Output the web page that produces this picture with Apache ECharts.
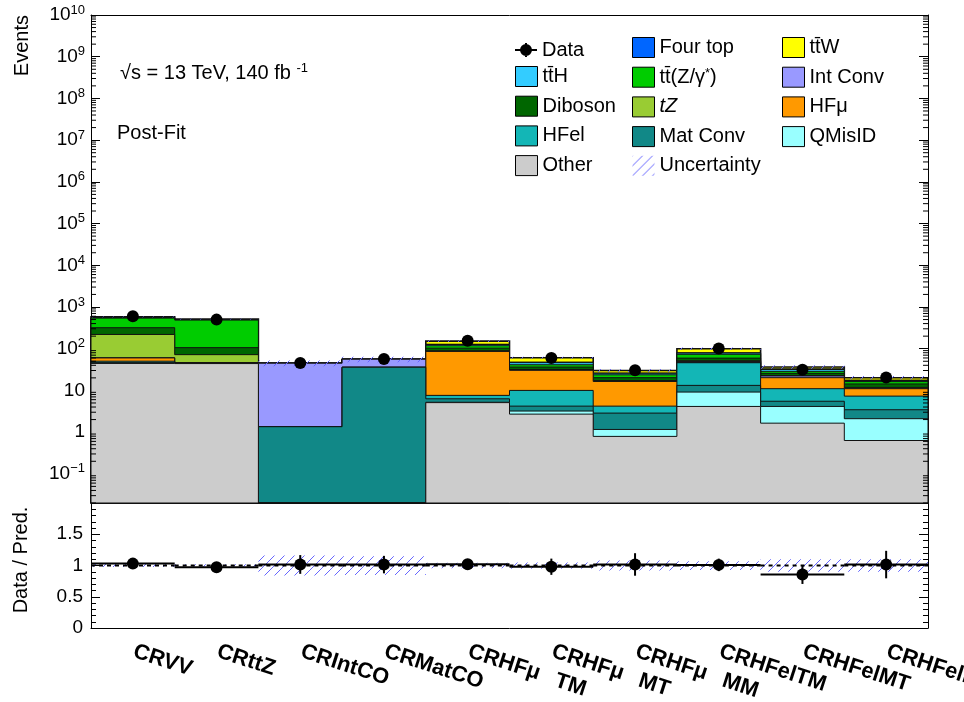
<!DOCTYPE html>
<html><head><meta charset="utf-8">
<script src="https://cdn.jsdelivr.net/npm/echarts@6/dist/echarts.min.js"></script>
<style>html,body{margin:0;padding:0;background:#fff}#c{width:964px;height:702px}</style>
</head><body><div id="c"></div><script>
// ---------- data ----------
const categories = ['CRVV','CRttZ','CRIntCO','CRMatCO','CRHFμ','CRHFμ\nTM','CRHFμ\nMT','CRHFelTM\nMM','CRHFelMT','CRHFelMM'];
// stack components, bottom -> top
const other    = [44.4, 44,   0,    0,    5.1,  2.7,  0.79, 4.13, 1.64, 0.63];
const qmisid   = [0.3,  0.1,  0,    0,    0.1,  0.5,  0.37, 5.0,  2.49, 1.47];
const matConv  = [1.5,  0.5,  1.35, 36,   1.1,  1.0,  1.7,  4.07, 1.37, 1.34];
const hfel     = [4,    1,    0,    0,    1.3,  5.8,  1.34, 32.9, 5.5,  3.86];
const hfmu     = [9.9,  0.5,  0,    0,    78.5, 20.3, 12.2, 0.4,  9.2,  3.7];
const intConv  = [0.5,  0.3,  43.6, 20,   1,    0.5,  0.3,  3,    2,    0.3];
const tZ       = [159,  25.6, 0,    0,    2,    1,    0.5,  2,    0.5,  0.5];
const diboson  = [99,   34,   0,    0,    14,   4.5,  3,    8,    3,    2.5];
const ttZ      = [223,  380,  0,    0,    15,   5,    3.5,  14,   3,    2];
const ttH      = [15,   12,   0,    0,    8,    5,    2,    5,    3,    1];
const fourTop  = [3,    3,    0,    0,    2,    1.5,  0.5,  1.5,  1.3,  0.4];
const ttW      = [20,   12,   0,    0,    24,   13,   3.8,  20,   3.5,  2.5];
const dataObs  = [597,  498,  45.7, 56.8, 155,  59.6, 30.5, 101,  31.2, 20.5];
const ratioErr = [0.04, 0.045,0.15, 0.14, 0.08, 0.13, 0.18, 0.1,  0.15, 0.22];
const relUnc   = [0.025,0.02, 0.16, 0.15, 0.045,0.05, 0.08, 0.07, 0.1,  0.1];
const yTickValues = [1e-1,1e0,1e1,1e2,1e3,1e4,1e5,1e6,1e7,1e8,1e9,1e10];
const ratioTicks = [0, 0.5, 1, 1.5];

const YMIN = 0.02, YMAX = 1e10;
const FONT = '"Liberation Sans", Arial, Helvetica, sans-serif';

const components = [
  {name:'Other', color:'#cccccc', values: other},
  {name:'QMisID', color:'#99ffff', values: qmisid},
  {name:'Mat Conv', color:'#118887', values: matConv},
  {name:'HFel', color:'#13b6b6', values: hfel},
  {name:'HFμ', color:'#ff9900', values: hfmu},
  {name:'Int Conv', color:'#9999ff', values: intConv},
  {name:'tZ', color:'#99cc33', values: tZ},
  {name:'Diboson', color:'#006600', values: diboson},
  {name:'tt\u0304(Z/γ*)', color:'#00cc00', values: ttZ},
  {name:'tt\u0304H', color:'#33ccff', values: ttH},
  {name:'Four top', color:'#0066ff', values: fourTop},
  {name:'tt\u0304W', color:'#ffff00', values: ttW}
];
const cum = [];
components.forEach((c, k) => {
  cum.push(c.values.map((v, i) => v + (k ? cum[k-1][i] : 0)));
});
const total = cum[cum.length-1];

// minor log ticks 2..9 per decade (axis decoration)
const minorTicks = [];
for (let e = -2; e < 10; e++) for (let m = 2; m <= 9; m++) { const v = m * Math.pow(10, e); if (v >= YMIN && v <= YMAX) minorTicks.push(v); }

// hatch pattern
const hatch = document.createElement('canvas');
hatch.width = 10; hatch.height = 10;
(function(){ const g = hatch.getContext('2d'); g.strokeStyle = '#6666ff'; g.lineWidth = 1;
  g.beginPath(); g.moveTo(0,10); g.lineTo(10,0); g.moveTo(-1,1); g.lineTo(1,-1); g.moveTo(9,11); g.lineTo(11,9); g.stroke(); })();
const hatchFill = {image: hatch, repeat: 'repeat'};

function binWidth(api, y) { return api.coord([1, y])[0] - api.coord([0, y])[0]; }

function levelRender(k) {
  return function (params, api) {
    if (params.dataIndex !== 0) return null;
    const bw = binWidth(api, YMIN);
    const ybot = api.coord([0, YMIN])[1];
    const pts = [];
    const n = cum[k].length;
    for (let i = 0; i < n; i++) {
      const xc = api.coord([i, YMIN])[0];
      const y = api.coord([i, Math.max(cum[k][i], YMIN)])[1];
      if (i === 0) pts.push([xc - bw/2, ybot]);
      pts.push([xc - bw/2, y], [xc + bw/2, y]);
      if (i === n-1) pts.push([xc + bw/2, ybot]);
    }
    return {type:'polygon', shape:{points: pts}, style:{fill: components[k].color, stroke:'#111', lineWidth: k === components.length-1 ? 1.6 : 1}};
  };
}

const series = [];
for (let k = components.length - 1; k >= 0; k--) {
  series.push({
    type:'custom', name: components[k].name, xAxisIndex:0, yAxisIndex:0,
    itemStyle:{color: components[k].color},
    data: cum[k].map((v, i) => [i, Math.max(v, YMIN)]),
    renderItem: levelRender(k), z: 2
  });
}
// uncertainty band on the stack
series.push({
  type:'custom', name:'Uncertainty', xAxisIndex:0, yAxisIndex:0, z:3,
  itemStyle:{color: hatchFill},
  data: total.map((t, i) => [i, t*(1-relUnc[i]), t*(1+relUnc[i])]),
  renderItem: function (params, api) {
    const i = api.value(0);
    const bw = binWidth(api, YMIN);
    const lo = api.coord([i, api.value(1)]), hi = api.coord([i, api.value(2)]);
    return {type:'rect', shape:{x: lo[0]-bw/2, y: hi[1], width: bw, height: lo[1]-hi[1]}, style:{fill: hatchFill}};
  }
});
// data points
series.push({
  type:'custom', name:'Data', xAxisIndex:0, yAxisIndex:0, z:5,
  itemStyle:{color:'#000'},
  data: dataObs.map((d, i) => [i, d, ratioErr[i]*total[i]]),
  renderItem: function (params, api) {
    const i = api.value(0), v = api.value(1), e = api.value(2);
    const p = api.coord([i, v]);
    const lo = api.coord([i, Math.max(v - e, YMIN)]), hi = api.coord([i, v + e]);
    return {type:'group', children:[
      {type:'line', shape:{x1:p[0], y1:lo[1], x2:p[0], y2:hi[1]}, style:{stroke:'#000', lineWidth:2}},
      {type:'circle', shape:{cx:p[0], cy:p[1], r:6}, style:{fill:'#000'}}
    ]};
  }
});
// minor ticks of the log axis, both frame sides
series.push({
  type:'custom', name:'minorTicks', xAxisIndex:0, yAxisIndex:0, z:6, silent:true,
  data: minorTicks.map(v => [0, v]),
  renderItem: function (params, api) {
    const cs = params.coordSys;
    const y = api.coord([0, api.value(1)])[1];
    return {type:'group', children:[
      {type:'line', shape:{x1:cs.x, y1:y, x2:cs.x+5, y2:y}, style:{stroke:'#000', lineWidth:1}},
      {type:'line', shape:{x1:cs.x+cs.width-5, y1:y, x2:cs.x+cs.width, y2:y}, style:{stroke:'#000', lineWidth:1}}
    ]};
  }
});
// ratio band + reference line
series.push({
  type:'custom', name:'ratioBand', xAxisIndex:2, yAxisIndex:2, z:3,
  data: relUnc.map((u, i) => [i, 1-u, 1+u]),
  renderItem: function (params, api) {
    const i = api.value(0);
    const bw = binWidth(api, 1);
    const lo = api.coord([i, api.value(1)]), hi = api.coord([i, api.value(2)]), c = api.coord([i, 1]);
    return {type:'group', children:[
      {type:'rect', shape:{x: lo[0]-bw/2, y: hi[1], width: bw, height: lo[1]-hi[1]}, style:{fill: hatchFill}},
      {type:'line', shape:{x1: c[0]-bw/2, y1: c[1], x2: c[0]+bw/2, y2: c[1]}, style:{stroke:'#000', lineWidth:2, lineDash:[4,4]}}
    ]};
  }
});
// ratio points
series.push({
  type:'custom', name:'ratio', xAxisIndex:2, yAxisIndex:2, z:5,
  data: dataObs.map((d, i) => [i, d/total[i], ratioErr[i]]),
  renderItem: function (params, api) {
    const i = api.value(0), r = api.value(1), e = api.value(2);
    const bw = binWidth(api, 1);
    const p = api.coord([i, r]), lo = api.coord([i, r - e]), hi = api.coord([i, r + e]);
    return {type:'group', children:[
      {type:'line', shape:{x1:p[0]-bw/2, y1:p[1], x2:p[0]+bw/2, y2:p[1]}, style:{stroke:'#000', lineWidth:2}},
      {type:'line', shape:{x1:p[0], y1:lo[1], x2:p[0], y2:hi[1]}, style:{stroke:'#000', lineWidth:2}},
      {type:'circle', shape:{cx:p[0], cy:p[1], r:6}, style:{fill:'#000'}}
    ]};
  }
});

function fmtLog(v) {
  const n = Math.round(Math.log10(v));
  if (n === 0) return '1';
  if (n === 1) return '10';
  return '10{s|' + (n < 0 ? '\u2212' + (-n) : n) + '}';
}
function fmtCat(v) {
  const parts = String(v).split('\n');
  if (parts.length === 1) return '{a|' + parts[0] + '}';
  return '{a|' + parts[0] + '}\n{b|' + parts[1] + '}';
}
const axisLineStyle = {color:'#000', width:1};
const logAxisBase = {type:'log', logBase:10, min:YMIN, max:YMAX, gridIndex:0, splitLine:{show:false}};
const catFont = {fontSize:22, fontWeight:'bold', fontFamily:FONT, color:'#000'};

const legendText = {fontSize:20, fontFamily:FONT, color:'#000',
  rich:{i:{fontSize:20, fontFamily:FONT, fontStyle:'italic', color:'#000'}, s:{fontSize:13, fontFamily:FONT, color:'#000', padding:[0,0,8,0]}}};
const legendFmt = function (name) {
  if (name === 'tZ') return '{i|tZ}';
  if (name === 'tt\u0304(Z/γ*)') return 'tt\u0304(Z/γ{s|*})';
  return name;
};
const legendBase = {orient:'vertical', itemWidth:22, itemHeight:20, itemGap:8.7, selectedMode:false,
  textStyle: legendText, formatter: legendFmt, itemStyle:{borderColor:'#000', borderWidth:1}, padding:0};

const option = {
  animation:false,
  backgroundColor:'#fff',
  textStyle:{fontFamily:FONT},
  grid:[{left:91, top:15, width:837, height:488, outerBoundsMode:'none', containLabel:false},
        {left:91, top:503, width:837, height:125, outerBoundsMode:'none', containLabel:false}],
  xAxis:[
    {type:'category', gridIndex:0, data:categories, position:'bottom', axisLine:{lineStyle:axisLineStyle}, axisTick:{inside:true, length:10, interval:0, lineStyle:{color:'#000'}}, axisLabel:{show:false}},
    {type:'category', gridIndex:0, data:categories, position:'top', axisLine:{lineStyle:axisLineStyle}, axisTick:{inside:true, length:10, interval:0, lineStyle:{color:'#000'}}, axisLabel:{show:false}},
    {type:'category', gridIndex:1, data:categories, position:'bottom', axisLine:{lineStyle:axisLineStyle}, axisTick:{inside:true, length:7, interval:0, lineStyle:{color:'#000'}},
      axisLabel:{interval:0, rotate:-18, formatter: fmtCat, fontSize:22, fontWeight:'bold', fontFamily:FONT, color:'#000', margin:10, align:'left', verticalAlign:'top',
        rich:{a:Object.assign({lineHeight:24, padding:[0,0,0,5]}, catFont), b:Object.assign({padding:[0,0,0,17], lineHeight:30}, catFont)}}}
  ],
  yAxis:[
    Object.assign({}, logAxisBase, {position:'left', axisLine:{show:true, lineStyle:axisLineStyle},
      axisTick:{show:true, inside:true, length:9, customValues:yTickValues, lineStyle:{color:'#000'}},
      axisLabel:{show:true, customValues:yTickValues, formatter:fmtLog, fontSize:19, fontFamily:FONT, color:'#000', margin:6,
        rich:{s:{fontSize:13, fontFamily:FONT, color:'#000', padding:[0,0,10,0]}}}}),
    Object.assign({}, logAxisBase, {position:'right', axisLine:{show:true, lineStyle:axisLineStyle},
      axisTick:{show:true, inside:true, length:9, customValues:yTickValues, lineStyle:{color:'#000'}}, axisLabel:{show:false}}),
    {type:'value', gridIndex:1, min:0, max:2, interval:0.5, position:'left', splitLine:{show:false},
      axisLine:{show:true, lineStyle:axisLineStyle}, axisTick:{show:true, inside:true, length:9, lineStyle:{color:'#000'}},
      minorTick:{show:true, splitNumber:5, length:5, lineStyle:{color:'#000'}},
      axisLabel:{customValues:ratioTicks, fontSize:19, fontFamily:FONT, color:'#000', margin:8, formatter: v => String(v)}},
    {type:'value', gridIndex:1, min:0, max:2, interval:0.5, position:'right', splitLine:{show:false},
      axisLine:{show:true, lineStyle:axisLineStyle}, axisTick:{show:true, inside:true, length:9, lineStyle:{color:'#000'}},
      minorTick:{show:true, splitNumber:5, length:5, lineStyle:{color:'#000'}}, axisLabel:{show:false}}
  ],
  legend:[
    Object.assign({}, legendBase, {left:515, top:40, itemHeight:14,
      data:[{name:'Data', icon:'path://M0,6H22V8H0Z M10,0H12V14H10Z M11,1A6,6,0,1,1,10.99,1Z', itemStyle:{borderWidth:0}}]}),
    Object.assign({}, legendBase, {left:515, top:66, data:['tt\u0304H','Diboson','HFel','Other'].map(n => ({name:n, icon:'rect'}))}),
    Object.assign({}, legendBase, {left:632, top:37, data:[
      {name:'Four top', icon:'rect'}, {name:'tt\u0304(Z/γ*)', icon:'rect'}, {name:'tZ', icon:'rect'}, {name:'Mat Conv', icon:'rect'},
      {name:'Uncertainty', icon:'rect', itemStyle:{borderWidth:0}}]}),
    Object.assign({}, legendBase, {left:782, top:37, data:['tt\u0304W','Int Conv','HFμ','QMisID'].map(n => ({name:n, icon:'rect'}))})
  ],
  graphic:[
    {type:'text', x:22, y:15, rotation:Math.PI/2, style:{text:'Events', fontSize:20, fontFamily:FONT, fill:'#000', align:'right', verticalAlign:'middle'}},
    {type:'text', x:21, y:560, rotation:Math.PI/2, style:{text:'Data / Pred.', fontSize:20, fontFamily:FONT, fill:'#000', align:'center', verticalAlign:'middle'}},
    {type:'text', x:120, y:73, style:{text:'√s = 13 TeV, 140 fb {s|-1}', fontSize:20, fontFamily:FONT, fill:'#000', verticalAlign:'middle',
      rich:{s:{fontSize:13, fontFamily:FONT, fill:'#000', padding:[0,0,10,0]}}}},
    {type:'text', x:117, y:133, style:{text:'Post-Fit', fontSize:20, fontFamily:FONT, fill:'#000', verticalAlign:'middle'}}
  ],
  series: series
};
const chart = echarts.init(document.getElementById('c'), null, {renderer:'canvas'});
chart.setOption(option);
</script></body></html>
